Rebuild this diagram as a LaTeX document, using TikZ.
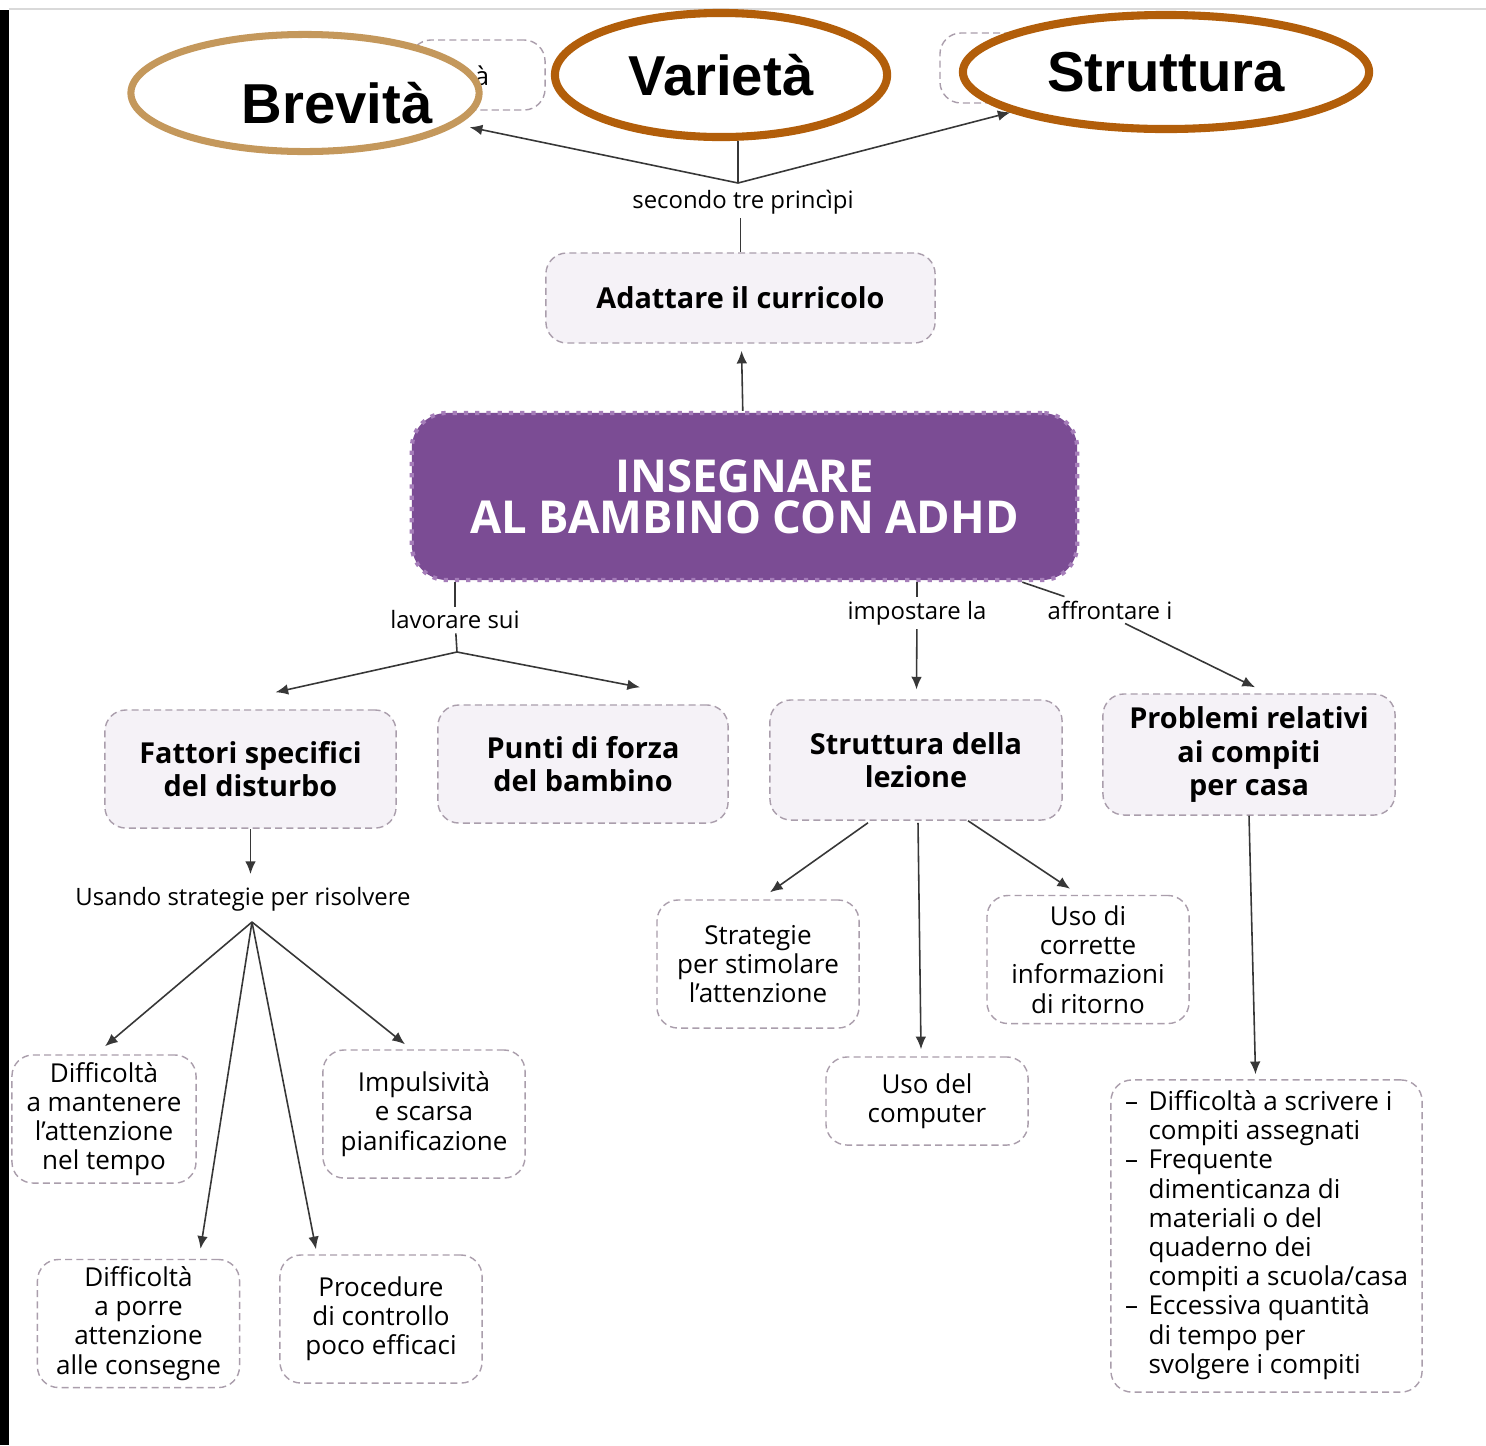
\documentclass[tikz,border=0pt]{standalone}
\usepackage{fontspec}
\setmainfont{Open Sans}
\newfontfamily\ellfont{Liberation Sans}
\usetikzlibrary{shapes.geometric,arrows.meta,calc}
\definecolor{viola}{RGB}{123,76,148}
\definecolor{violabordo}{RGB}{165,125,185}
\definecolor{lilla}{RGB}{245,242,247}
\definecolor{bordo}{RGB}{170,158,172}
\definecolor{freccia}{RGB}{55,55,55}
\definecolor{brevcol}{RGB}{196,152,92}
\definecolor{ellcol}{RGB}{178,94,10}
\begin{document}
\begin{tikzpicture}[x=0.01cm,y=-0.01cm,
  efont/.style={font=\ellfont\bfseries\fontsize{16}{18}\selectfont},
  ell/.style={ellipse, draw=#1, line width=2pt, fill=white, efont, inner sep=0pt},
  pbox/.style={draw=bordo, dash pattern=on 2pt off 1.2pt, fill=lilla, rounded corners=6pt, align=center, inner sep=2pt, font=\fontsize{8.2}{9.4}\selectfont\bfseries},
  sbox/.style={draw=bordo, dash pattern=on 2pt off 1.2pt, fill=white, rounded corners=6pt, align=center, inner sep=2pt, minimum width=2.02cm, minimum height=1.28cm, font=\fontsize{7.4}{8.3}\selectfont},
  titolo/.style={draw=violabordo, dotted, line width=1.2pt, fill=viola, text=white, rounded corners=10pt, align=center, font=\fontsize{12.9}{11.7}\selectfont\bfseries},
  lbl/.style={font=\fontsize{6.8}{7.5}\selectfont, inner sep=1pt},
  lin/.style={draw=freccia, line width=0.45pt},
  arr/.style={lin, -{Latex[length=3.6pt,width=3pt]}}]
\useasboundingbox (0,0) rectangle (1486,1445);
\fill[white] (0,0) rectangle (1486,1445);
\fill[black] (0,10) rectangle (9,1445);
\draw[black!15, line width=0.5pt] (9,9) -- (1486,9);

\node[draw=bordo, dash pattern=on 2pt off 1.2pt, rounded corners=6pt, minimum width=1.35cm, minimum height=0.7cm] (oldb) at (477.5,75) {};
\node[draw=bordo, dash pattern=on 2pt off 1.2pt, rounded corners=6pt, minimum width=1.6cm, minimum height=0.7cm] (olds) at (1020,68) {};
\node[font=\fontsize{7.3}{8}\selectfont, inner sep=0pt] (olda) at (482,76) {à};
\node[ell=brevcol, minimum width=3.48cm, minimum height=1.17cm, label={[xshift=0.32cm,yshift=-0.1cm,efont]center:Brevità}] (bre) at (305,93) {};
\node[ell=ellcol, line width=2.3pt, minimum width=3.32cm, minimum height=1.24cm] (var) at (721,75) {Varietà};
\node[ell=ellcol, line width=2.3pt, minimum width=4.06cm, minimum height=1.14cm] (strt) at (1166,72) {Struttura};

\coordinate (tf) at (738,183);
\node[lbl] (sec) at (743,202) {secondo tre princìpi};
\node[pbox, minimum width=3.89cm, minimum height=0.9cm] (ada) at (740.5,298) {Adattare il curricolo};
\node[titolo, minimum width=6.65cm, minimum height=1.67cm] (ins) at (744.5,496.5) {INSEGNARE\\AL BAMBINO CON ADHD};

\node[lbl] (lav) at (455,620) {lavorare sui};
\node[lbl] (ipo) at (917,613) {impostare la};
\node[lbl] (aff) at (1110,610) {affrontare i};
\coordinate (lf) at (457,652);

\node[pbox, minimum width=2.91cm, minimum height=1.18cm] (fat) at (250.5,769) {Fattori specifici\\del disturbo};
\node[pbox, minimum width=2.90cm, minimum height=1.18cm] (pun) at (583,764) {Punti di forza\\del bambino};
\node[pbox, minimum width=2.92cm, minimum height=1.20cm] (str) at (916,760) {Struttura della\\lezione};
\node[pbox, minimum width=2.92cm, minimum height=1.21cm] (prob) at (1249,754.5) {Problemi relativi\\ai compiti\\per casa};

\node[lbl] (usa) at (243,899) {Usando strategie per risolvere};
\coordinate (uf) at (252,922);

\node[sbox, minimum width=1.84cm] (dm) at (104,1119) {Difficoltà\\a mantenere\\l’attenzione\\nel tempo};
\node[sbox] (imp) at (424,1114) {Impulsività\\e scarsa\\pianificazione};
\node[sbox] (dp) at (138.5,1323.5) {Difficoltà\\a porre\\attenzione\\alle consegne};
\node[sbox] (pr) at (381,1319) {Procedure\\di controllo\\poco efficaci};
\node[sbox] (stg) at (758,964) {Strategie\\per stimolare\\l’attenzione};
\node[sbox] (usc) at (1088,959.5) {Uso di\\corrette\\informazioni\\di ritorno};
\node[sbox, minimum height=0.88cm] (comp) at (927,1101) {Uso del\\computer};
\node[sbox, minimum width=3.11cm, minimum height=3.12cm, align=left] (list) at (1266.5,1236) {%
\begin{tabular}{@{}l@{\hspace{3pt}}l@{}}
– & Difficoltà a scrivere i\\
  & compiti assegnati\\
– & Frequente\\
  & dimenticanza di\\
  & materiali o del\\
  & quaderno dei\\
  & compiti a scuola/casa\\
– & Eccessiva quantità\\
  & di tempo per\\
  & svolgere i compiti
\end{tabular}};

\draw[lin] (tf) -- (tf |- var.south);
\draw[arr, shorten >=3.5pt] (tf) -- (bre);
\draw[arr] (tf) -- (strt);
\draw[lin] (ada |- sec.south) -- (ada);
\draw[arr, shorten >=2pt] (ins) -- (ada);

\draw[lin] (lav |- ins.south) -- (lav);
\draw[lin] (lav) -- (lf);
\draw[arr] (lf) -- ($(fat.north)+(25,-17)$);
\draw[arr] (lf) -- ($(pun.north)+(57,-17)$);
\draw[lin] (ipo |- ins.south) -- (ipo);
\draw[arr, shorten >=2.8pt] (ipo) -- (str);
\draw[lin] ($(ins.south east)+(-57,0)$) -- ($(aff.north west)+(21,0)$);
\draw[arr] ($(aff.south)+(15,0)$) -- ($(prob.north)+(6,-6)$);

\draw[arr, shorten >=2.5pt] (fat.south) -- (fat.south |- usa.north);
\draw[arr] (uf) -- ($(dm.north)+(1,-8)$);
\draw[arr] (uf) -- ($(dp.north)+(62,-10)$);
\draw[arr] (uf) -- ($(pr.north)+(-65,-5)$);
\draw[arr] (uf) -- ($(imp.north)+(-19,-5)$);

\draw[arr] ($(str.south)+(-48,2)$) -- ($(stg.north)+(12,-7)$);
\draw[arr] ($(str.south)+(2,2)$) -- ($(comp.north)+(-6,-7)$);
\draw[arr] ($(str.south)+(52,0)$) -- ($(usc.north)+(-18,-6)$);
\draw[arr] (prob.south) -- ($(list.north)+(-11,-5)$);
\end{tikzpicture}
\end{document}
